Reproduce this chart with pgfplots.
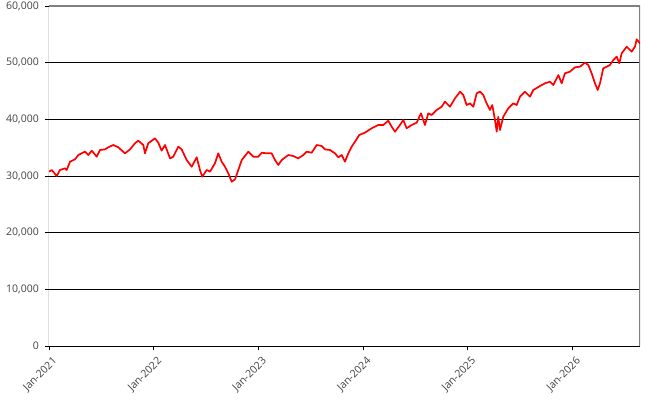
\documentclass[border=0pt]{standalone}
\usepackage{pgfplots}
\pgfplotsset{compat=1.18}
\usepackage{fontspec}
\setmainfont{Open Sans}
\definecolor{txt}{HTML}{404040}
\definecolor{frame}{HTML}{808080}
\begin{document}
\begin{tikzpicture}[x=1pt,y=1pt]
\useasboundingbox (-49,-64) rectangle (610,346);
\begin{axis}[
  at={(0,0)}, anchor=south west,
  scale only axis, width=591pt, height=340pt,
  xmin=0, xmax=5.645, ymin=0, ymax=60000,
  xtick={0,1,2,3,4,5},
  xticklabels={Jan-2021,Jan-2022,Jan-2023,Jan-2024,Jan-2025,Jan-2026},
  ytick={0,10000,20000,30000,40000,50000,60000},
  yticklabels={0,{10,000},{20,000},{30,000},{40,000},{50,000},{60,000}},
  ymajorgrids, grid style={black, line width=0.8pt},
  axis line style={draw=none},
  tick style={black, line width=0.8pt},
  tick align=outside, major tick length=4pt,
  xtick pos=bottom, ytick pos=left,
  yticklabel style={font=\fontsize{10.5}{12}\selectfont, text=txt, inner sep=0pt, anchor=east, xshift=-6pt},
  xticklabel style={font=\fontsize{10.5}{12}\selectfont, text=txt, inner sep=0pt, xshift=3pt, yshift=-6pt, rotate=45, anchor=north east},
  clip=true,
]
\draw[frame, line width=1.2pt] (axis cs:0,60000) -- (axis cs:5.645,60000) -- (axis cs:5.645,0);
\draw[black, line width=1pt] (axis cs:0,60000) -- (axis cs:0,0) -- (axis cs:5.645,0);
\addplot[color=red, line width=1.7pt, line join=round] coordinates {
(0,30760) (0.026,31060) (0.074,30000) (0.105,31060) (0.153,31350) (0.169,31060)
(0.201,32530) (0.248,32940) (0.280,33700) (0.344,34300) (0.375,33700) (0.408,34470)
(0.456,33410) (0.487,34590) (0.535,34700) (0.566,35060) (0.614,35470) (0.662,35060)
(0.726,34000) (0.774,34700) (0.821,35770) (0.853,36230) (0.901,35470) (0.917,34000)
(0.948,35770) (1.012,36650) (1.044,35880) (1.076,34470) (1.108,35470) (1.156,33120)
(1.187,33410) (1.235,35180) (1.267,34700) (1.315,32820) (1.363,31640) (1.411,33300)
(1.442,31060) (1.464,29880) (1.506,31060) (1.538,30760) (1.585,32240) (1.617,34000)
(1.649,32530) (1.681,31640) (1.713,30470) (1.745,28990) (1.777,29410) (1.808,31060)
(1.841,32820) (1.904,34290) (1.951,33410) (1.999,33410) (2.032,34110) (2.079,34000)
(2.127,34000) (2.159,32820) (2.190,31940) (2.223,32820) (2.286,33700) (2.333,33530)
(2.381,33120) (2.429,33700) (2.461,34290) (2.509,34110) (2.557,35470) (2.605,35290)
(2.636,34700) (2.684,34590) (2.732,34000) (2.763,33300) (2.796,33700) (2.827,32530)
(2.859,34000) (2.891,35180) (2.923,36050) (2.964,37240) (3.018,37650) (3.082,38420)
(3.145,39000) (3.193,39000) (3.241,39760) (3.273,38700) (3.305,37820) (3.352,39000)
(3.384,39880) (3.416,38420) (3.464,39000) (3.512,39410) (3.553,41060) (3.575,39880)
(3.591,39000) (3.623,41060) (3.655,40760) (3.703,41650) (3.751,42230) (3.782,43120)
(3.830,42230) (3.878,43710) (3.926,44880) (3.957,44300) (3.989,42530) (4.021,42820)
(4.053,42230) (4.085,44590) (4.117,44880) (4.148,44300) (4.180,42820) (4.212,41650)
(4.234,42530) (4.260,39880) (4.276,37820) (4.291,40460) (4.308,38120) (4.339,40460)
(4.387,41940) (4.435,42820) (4.467,42530) (4.499,44000) (4.546,44880) (4.594,44000)
(4.626,45180) (4.690,45880) (4.737,46360) (4.785,46640) (4.817,46060) (4.865,47820)
(4.897,46360) (4.928,48120) (4.976,48410) (5.024,49180) (5.072,49290) (5.119,50000)
(5.151,49590) (5.183,48120) (5.215,46360) (5.241,45180) (5.263,46360) (5.294,49000)
(5.327,49290) (5.358,49590) (5.390,50470) (5.423,51060) (5.447,49880) (5.470,51650)
(5.518,52820) (5.565,51940) (5.597,52820) (5.613,54120) (5.645,53410)
};
\end{axis}
\end{tikzpicture}
\end{document}
